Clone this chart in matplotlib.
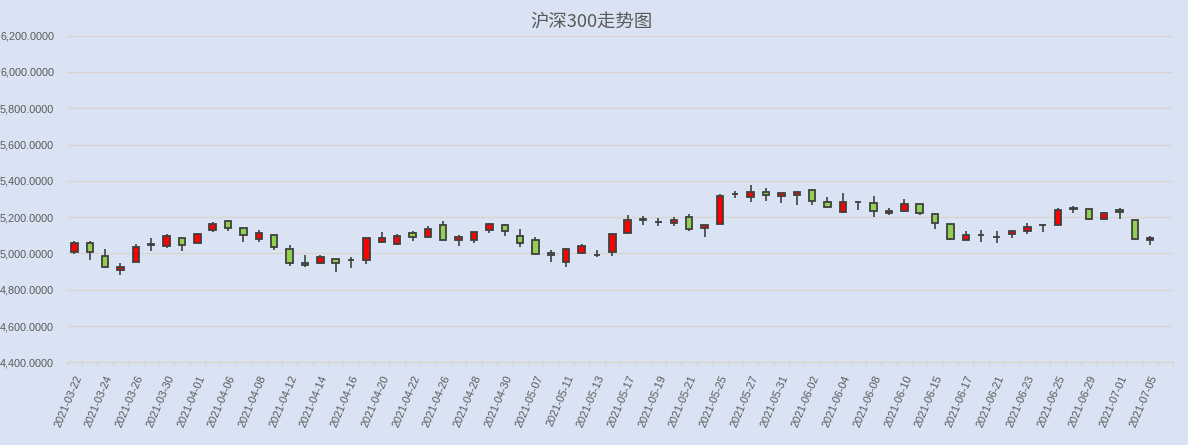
import matplotlib
matplotlib.use("Agg")
import matplotlib.pyplot as plt
from matplotlib.ticker import FuncFormatter, FixedLocator

plt.rcParams['font.family'] = ['Noto Sans CJK SC', 'DejaVu Sans']

dates = ["2021-03-22", "2021-03-23", "2021-03-24", "2021-03-25", "2021-03-26",
         "2021-03-29", "2021-03-30", "2021-03-31", "2021-04-01", "2021-04-02",
         "2021-04-06", "2021-04-07", "2021-04-08", "2021-04-09",
         "2021-04-12", "2021-04-13", "2021-04-14", "2021-04-15", "2021-04-16",
         "2021-04-19", "2021-04-20", "2021-04-21", "2021-04-22", "2021-04-23",
         "2021-04-26", "2021-04-27", "2021-04-28", "2021-04-29", "2021-04-30",
         "2021-05-06", "2021-05-07",
         "2021-05-10", "2021-05-11", "2021-05-12", "2021-05-13", "2021-05-14",
         "2021-05-17", "2021-05-18", "2021-05-19", "2021-05-20", "2021-05-21",
         "2021-05-24", "2021-05-25", "2021-05-26", "2021-05-27", "2021-05-28",
         "2021-05-31", "2021-06-01", "2021-06-02", "2021-06-03", "2021-06-04",
         "2021-06-07", "2021-06-08", "2021-06-09", "2021-06-10", "2021-06-11",
         "2021-06-15", "2021-06-16", "2021-06-17", "2021-06-18",
         "2021-06-21", "2021-06-22", "2021-06-23", "2021-06-24", "2021-06-25",
         "2021-06-28", "2021-06-29", "2021-06-30", "2021-07-01", "2021-07-02",
         "2021-07-05", "2021-07-06"]

opens = [5009, 5058, 4987, 4907, 4954, 5047, 5040, 5086, 5058, 5130,
         5179, 5141, 5080, 5102, 5026, 4949, 4949, 4971, 4963, 4965,
         5064, 5051, 5113, 5091, 5157, 5075, 5073, 5128, 5157, 5097,
         5075, 5004, 4954, 5002, 4991, 5009, 5113, 5190, 5173, 5170,
         5203, 5142, 5163, 5326, 5310, 5340, 5318, 5321, 5351, 5285,
         5230, 5283, 5279, 5225, 5232, 5272, 5217, 5163, 5075, 5100,
         5089, 5108, 5122, 5155, 5157, 5247, 5245, 5190, 5239, 5184,
         5075]
closes = [5058, 5009, 4927, 4927, 5037, 5051, 5097, 5046, 5108, 5164,
          5141, 5102, 5113, 5037, 4949, 4936, 4982, 4949, 4966, 5086,
          5086, 5097, 5091, 5135, 5073, 5091, 5119, 5163, 5122, 5058,
          4998, 4991, 5026, 5042, 4989, 5108, 5186, 5187, 5175, 5186,
          5135, 5159, 5318, 5328, 5340, 5321, 5334, 5340, 5289, 5257,
          5285, 5281, 5236, 5236, 5272, 5223, 5168, 5079, 5102, 5102,
          5091, 5124, 5146, 5157, 5239, 5250, 5190, 5223, 5228, 5079,
          5086]
highs = [5071, 5066, 5026, 4947, 5053, 5086, 5106, 5086, 5115, 5172,
         5179, 5141, 5130, 5102, 5047, 4993, 4989, 4971, 4982, 5086,
         5119, 5106, 5121, 5152, 5179, 5099, 5119, 5168, 5164, 5135,
         5091, 5020, 5031, 5053, 5020, 5115, 5210, 5205, 5197, 5203,
         5219, 5159, 5325, 5345, 5378, 5362, 5334, 5345, 5351, 5312,
         5334, 5283, 5318, 5252, 5299, 5272, 5225, 5163, 5126, 5131,
         5126, 5124, 5170, 5164, 5250, 5261, 5245, 5230, 5250, 5184,
         5097]
lows = [4996, 4965, 4920, 4883, 4954, 5011, 5029, 5015, 5058, 5119,
        5124, 5062, 5062, 5020, 4932, 4927, 4942, 4900, 4920, 4942,
        5058, 5044, 5071, 5084, 5073, 5040, 5057, 5111, 5095, 5035,
        4998, 4954, 4927, 4996, 4980, 4984, 5113, 5157, 5152, 5152,
        5124, 5091, 5163, 5305, 5283, 5289, 5278, 5268, 5268, 5257,
        5225, 5241, 5203, 5214, 5226, 5212, 5135, 5073, 5075, 5064,
        5058, 5084, 5108, 5119, 5157, 5221, 5183, 5183, 5190, 5073,
        5046]

title = "沪深300走势图"
BG = "#DAE3F3"
UP = "#FF0000"
DOWN = "#92D050"
EDGE = "#404040"
GRID = "#D9D6CF"
TXT = "#595959"
TICKFONT = ['Liberation Sans', 'DejaVu Sans']

fig = plt.figure(figsize=(11.88, 4.45), dpi=100, facecolor=BG)
ax = fig.add_axes([66.7 / 1188, 1 - 362.3 / 445, (1173.3 - 66.7) / 1188, (362.3 - 35.7) / 445])
ax.set_facecolor(BG)

n = len(opens)
xs = list(range(n))
colors = [UP if c >= o else DOWN for o, c in zip(opens, closes)]
bottoms = [min(o, c) for o, c in zip(opens, closes)]
heights = [abs(c - o) for o, c in zip(opens, closes)]

ax.vlines(xs, lows, highs, color=EDGE, linewidth=1.2, zorder=2)
ax.bar(xs, heights, bottom=bottoms, width=0.42, color=colors,
       edgecolor=EDGE, linewidth=1.3, zorder=3)

ax.set_ylim(4400, 6200)
ax.set_yticks(range(4400, 6201, 200))
ax.yaxis.set_major_formatter(FuncFormatter(lambda v, p: f"{v:,.4f}"))
ax.grid(axis='y', color=GRID, linewidth=1.0, zorder=0)
ax.set_axisbelow(True)

ax.set_xlim(-0.5, len(dates) - 0.5)
major = list(range(0, len(dates), 2))
ax.xaxis.set_major_locator(FixedLocator(major))
ax.set_xticklabels([dates[i] for i in major], rotation=67, ha='right',
                   va='top', rotation_mode='anchor')
ax.xaxis.set_minor_locator(FixedLocator([i - 0.5 for i in range(len(dates) + 1)]))

ax.tick_params(axis='y', length=0, pad=9, labelsize=7.8, labelcolor=TXT)
ax.tick_params(axis='x', which='major', length=0, pad=8, labelsize=7.8, labelcolor=TXT)
ax.tick_params(axis='x', which='minor', length=3, width=1.0, color=GRID)
for lbl in ax.get_xticklabels() + ax.get_yticklabels():
    lbl.set_family(TICKFONT)

for s in ['left', 'right', 'top']:
    ax.spines[s].set_visible(False)
ax.spines['bottom'].set_color(GRID)
ax.spines['bottom'].set_linewidth(1.0)

fig.text(591.7 / 1188, 1 - 22.8 / 445, title, ha='center', va='center',
         fontsize=13.2, color=TXT)

fig.savefig("out.png", dpi=100, facecolor=BG)
